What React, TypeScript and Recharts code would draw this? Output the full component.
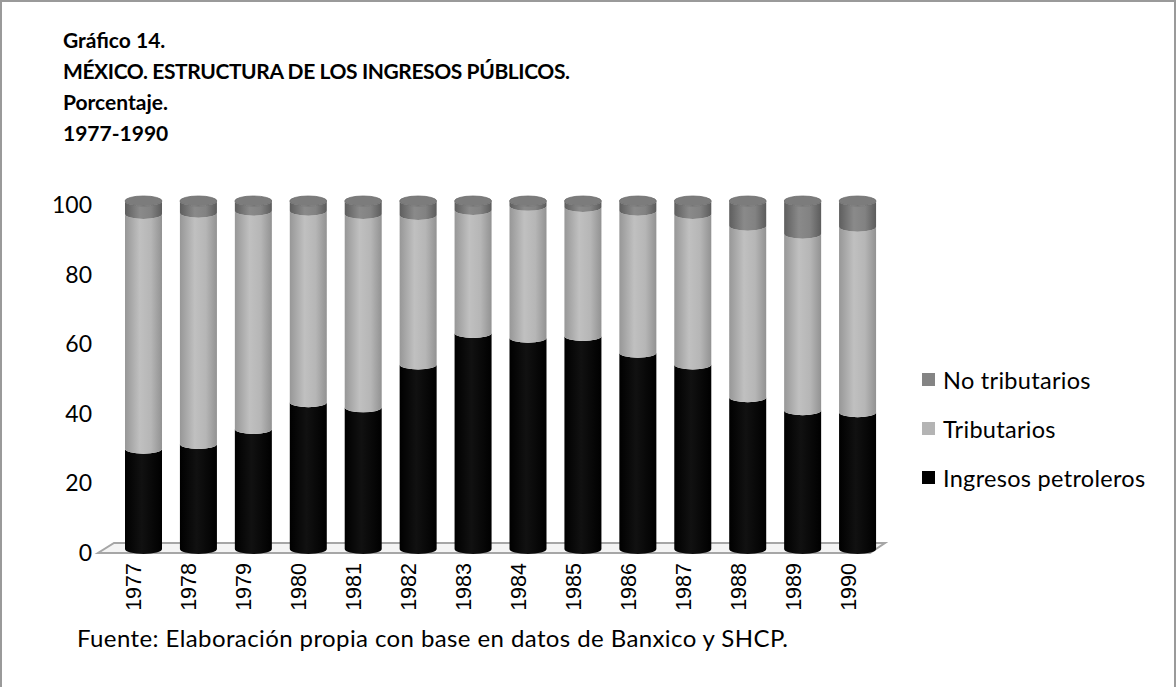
import React from "react";
import { BarChart, Bar, XAxis, YAxis, Legend } from "recharts";

const years = ["1977", "1978", "1979", "1980", "1981", "1982", "1983", "1984", "1985", "1986", "1987", "1988", "1989", "1990"];
const petroleros = [28.8, 30.2, 34.5, 42.2, 40.7, 53.0, 62.1, 60.7, 61.2, 56.4, 53.0, 43.6, 39.9, 39.3];
const tributarios = [67.5, 66.4, 62.7, 55.0, 55.6, 43.0, 35.3, 37.9, 37.1, 40.8, 43.3, 49.3, 50.7, 53.3];
const noTributarios = [3.7, 3.4, 2.8, 2.8, 3.7, 4.0, 2.6, 1.4, 1.7, 2.8, 3.7, 7.1, 9.4, 7.4];
const yTicks = [0, 20, 40, 60, 80, 100];

const data = years.map((year, i) => ({
  year,
  petroleros: petroleros[i],
  tributarios: tributarios[i],
  noTributarios: noTributarios[i],
}));

const W = 1176;
const H = 687;
const LEGEND_W = 250;
// right margin leaves room for the legend box, which recharts subtracts itself
const margin = { top: 201, right: 291 - LEGEND_W, left: 56, bottom: 78 };
const Y_AXIS_W = 60;
const X_AXIS_H = 60;
const RY = 5;

const FONT = "Lato, 'Open Sans', sans-serif";

const legendItems = [
  { name: "No tributarios", color: "#848484" },
  { name: "Tributarios", color: "#b4b4b4" },
  { name: "Ingresos petroleros", color: "#000000" },
];

// cylinder segment: front edges are drawn as lower half-ellipses
function makeShape(grad: string, opts: { cap?: boolean; capFill?: string }) {
  return (props: any) => {
    const { x, y, width, height } = props;
    if (width == null || height == null) return <g />;
    const rx = width / 2;
    const d = [
      `M${x},${y}`,
      `A${rx},${RY} 0 0 0 ${x + width},${y}`,
      `L${x + width},${y + height}`,
      `A${rx},${RY} 0 0 1 ${x},${y + height}`,
      "Z",
    ].join(" ");
    return (
      <g>
        <path d={d} fill={`url(#${grad})`} />
        {opts.cap && (
          <ellipse cx={x + rx} cy={y} rx={rx} ry={RY} fill={opts.capFill} stroke="#6e6e6e" strokeWidth={0.8} />
        )}
      </g>
    );
  };
}

const YTick = (props: any) => {
  const { x, y, payload } = props;
  return (
    <text x={x} y={y + 3} textAnchor="end" dominantBaseline="central" fontFamily={FONT} fontSize={23} fill="#000">
      {payload.value}
    </text>
  );
};

// labels sit under the front edge of the 3D floor, a little left of the bars
const XTick = (props: any) => {
  const { x, y, payload } = props;
  return (
    <text
      transform={`translate(${x - 9},${y}) rotate(-90)`}
      textAnchor="end"
      dominantBaseline="central"
      fontFamily="'Liberation Sans', Arial, sans-serif"
      fontSize={21.5}
      fill="#000"
    >
      {payload.value}
    </text>
  );
};

function LegendContent() {
  return (
    <div style={{ fontFamily: FONT, fontSize: 23.5, letterSpacing: 0.3, color: "#000" }}>
      {legendItems.map((it) => (
        <div key={it.name} style={{ display: "flex", alignItems: "center", height: 49 }}>
          <span style={{ width: 13, height: 13, background: it.color, marginRight: 8, display: "inline-block" }} />
          <span>{it.name}</span>
        </div>
      ))}
    </div>
  );
}

export default function App() {
  const plotLeft = margin.left + Y_AXIS_W;
  const plotRight = W - margin.right - LEGEND_W;
  const plotBottom = H - margin.bottom - X_AXIS_H;
  return (
    <div
      style={{
        position: "absolute",
        left: 0,
        top: 0,
        width: W,
        height: H,
        background: "#fff",
        boxSizing: "border-box",
        borderTop: "2px solid #9a9a9a",
        borderLeft: "2px solid #9a9a9a",
        borderRight: "2px solid #9a9a9a",
        overflow: "hidden",
      }}
    >
      <div
        style={{
          position: "absolute",
          left: 61,
          top: 22,
          fontFamily: FONT,
          fontWeight: 700,
          fontSize: 21,
          lineHeight: "31px",
          color: "#000",
        }}
      >
        <div>Gráfico 14.</div>
        <div style={{ letterSpacing: -0.4 }}>MÉXICO. ESTRUCTURA DE LOS INGRESOS PÚBLICOS.</div>
        <div>Porcentaje.</div>
        <div>1977-1990</div>
      </div>

      {/* floor of the 3D plot */}
      <svg width={W} height={H} style={{ position: "absolute", left: -2, top: -2 }}>
        <polygon
          points={`${plotLeft - 18},${plotBottom + 4} ${plotRight - 15},${plotBottom + 4} ${plotRight},${plotBottom - 6} ${plotLeft - 2},${plotBottom - 6}`}
          fill="#f4f4f4"
          stroke="#a6a6a6"
          strokeWidth={2}
        />
      </svg>

      <div style={{ position: "absolute", left: -2, top: -2 }}>
        <BarChart width={W} height={H} data={data} margin={margin} barSize={37}>
          <defs>
            <linearGradient id="gBlack" x1="0" y1="0" x2="1" y2="0">
              <stop offset="0" stopColor="#000" />
              <stop offset="0.45" stopColor="#111" />
              <stop offset="1" stopColor="#000" />
            </linearGradient>
            <linearGradient id="gLight" x1="0" y1="0" x2="1" y2="0">
              <stop offset="0" stopColor="#979797" />
              <stop offset="0.4" stopColor="#c0c0c0" />
              <stop offset="0.7" stopColor="#b6b6b6" />
              <stop offset="1" stopColor="#929292" />
            </linearGradient>
            <linearGradient id="gDark" x1="0" y1="0" x2="1" y2="0">
              <stop offset="0" stopColor="#5e5e5e" />
              <stop offset="0.4" stopColor="#8a8a8a" />
              <stop offset="0.7" stopColor="#828282" />
              <stop offset="1" stopColor="#5c5c5c" />
            </linearGradient>
          </defs>
          <XAxis
            dataKey="year"
            height={X_AXIS_H}
            axisLine={false}
            tickLine={false}
            tickSize={0}
            tickMargin={14}
            interval={0}
            tick={<XTick />}
          />
          <YAxis
            width={Y_AXIS_W}
            domain={[0, 100]}
            ticks={yTicks}
            axisLine={false}
            tickLine={false}
            tickSize={0}
            tickMargin={24}
            tick={<YTick />}
          />
          <Legend
            layout="vertical"
            align="right"
            verticalAlign="top"
            content={<LegendContent />}
            wrapperStyle={{ left: 922, top: 355, width: LEGEND_W }}
          />
          <Bar dataKey="petroleros" name="Ingresos petroleros" stackId="a" fill="#000" isAnimationActive={false} shape={makeShape("gBlack", {})} />
          <Bar dataKey="tributarios" name="Tributarios" stackId="a" fill="#b4b4b4" isAnimationActive={false} shape={makeShape("gLight", {})} />
          <Bar
            dataKey="noTributarios"
            name="No tributarios"
            stackId="a"
            fill="#848484"
            isAnimationActive={false}
            shape={makeShape("gDark", { cap: true, capFill: "#7c7c7c" })}
          />
        </BarChart>
      </div>

      <div
        style={{
          position: "absolute",
          left: 75,
          top: 621,
          fontFamily: FONT,
          fontSize: 24,
          letterSpacing: 0.4,
          color: "#000",
        }}
      >
        Fuente: Elaboración propia con base en datos de Banxico y SHCP.
      </div>
    </div>
  );
}
